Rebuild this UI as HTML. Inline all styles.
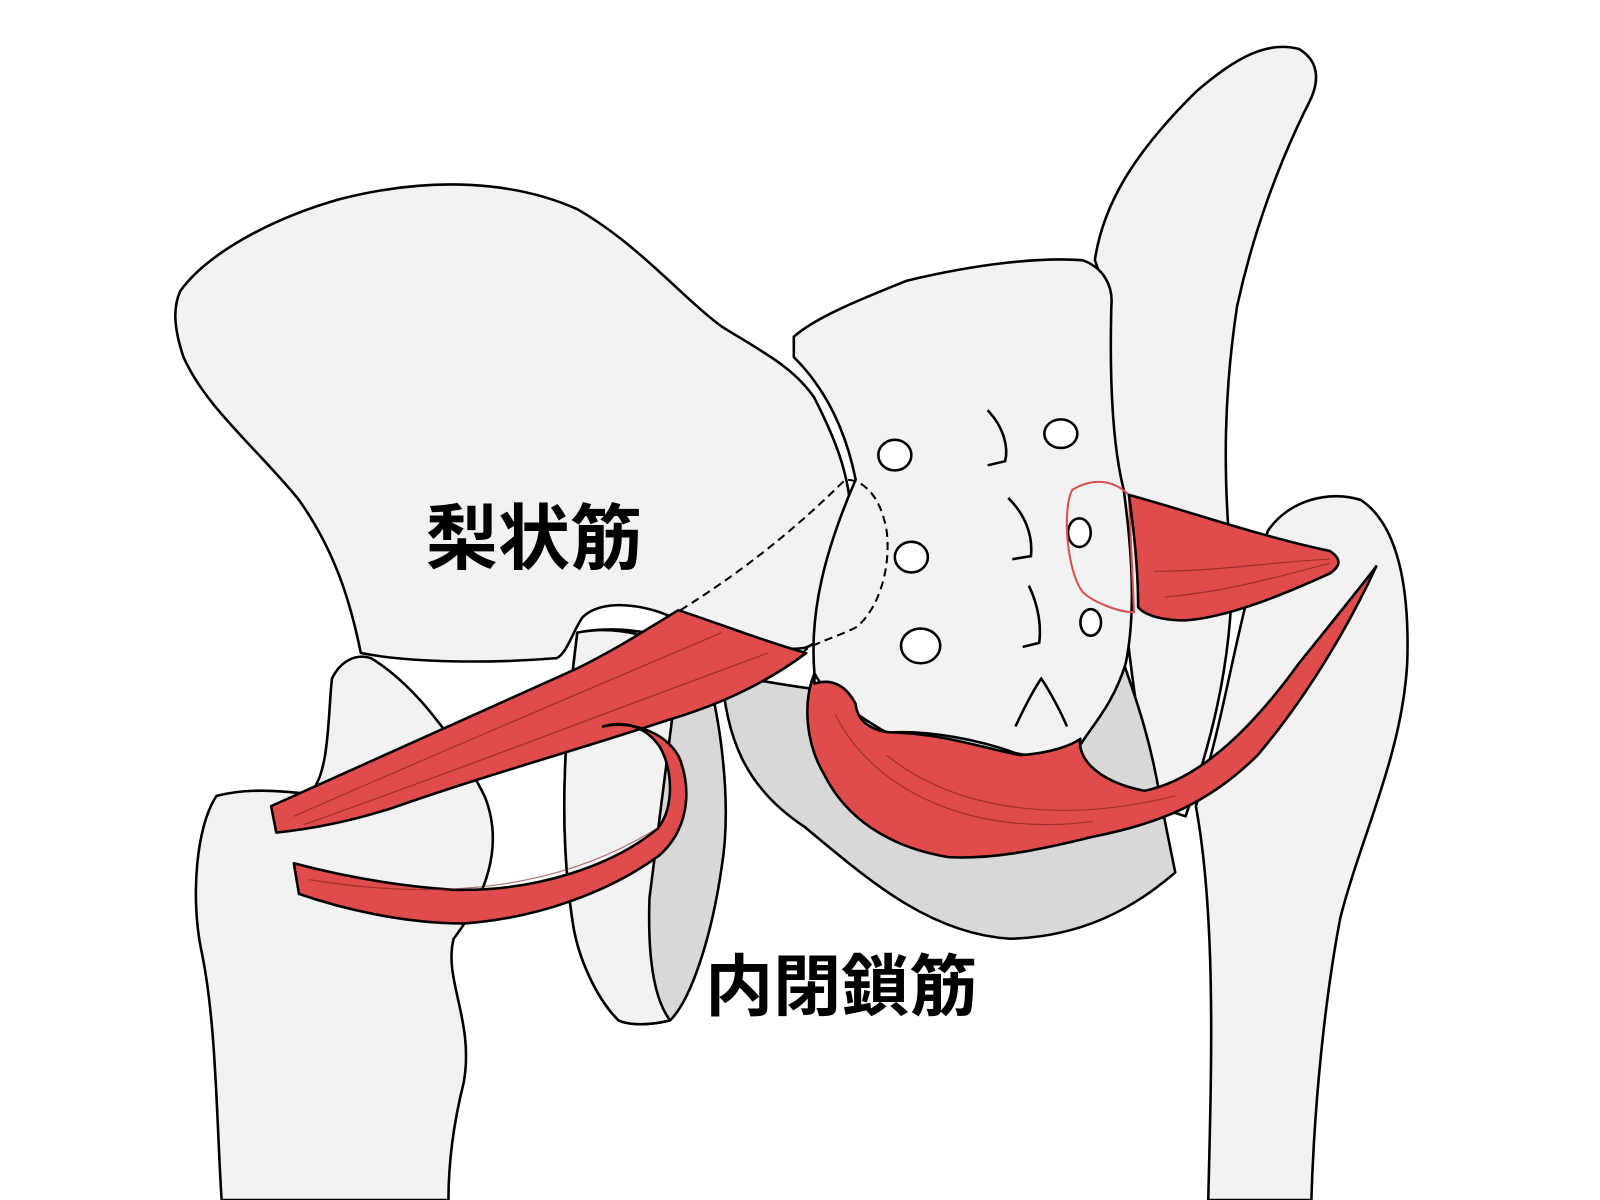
<!DOCTYPE html>
<html><head><meta charset="utf-8"><style>
html,body{margin:0;padding:0;background:#fff;width:1600px;height:1200px;overflow:hidden}
svg{display:block}
text{font-family:"Liberation Sans","Noto Sans CJK JP",sans-serif;font-weight:bold;fill:#000}
</style></head><body>
<svg width="1600" height="1200" viewBox="0 0 1552 1176" preserveAspectRatio="none" xmlns="http://www.w3.org/2000/svg">
<g stroke="#000" stroke-width="2.5" stroke-linejoin="round" fill="#f2f2f2">
<path d="M1160,790 C1190,700 1200,600 1230,520 C1250,490 1290,480 1320,490 C1350,510 1368,560 1365,650 C1360,740 1320,820 1300,900 C1285,980 1275,1080 1272,1176 L1172,1176 C1175,1050 1180,900 1160,790 Z"/>
<path d="M1062,255 C1070,200 1100,150 1160,90 C1200,55 1230,40 1260,48 C1280,60 1280,80 1270,100 C1240,160 1215,230 1200,300 C1188,380 1185,460 1195,560 C1195,660 1170,740 1150,800 L1120,790 C1100,700 1090,600 1080,480 C1078,400 1080,300 1062,255 Z"/>
<path d="M210,780 C240,772 270,775 300,778 C320,760 318,700 322,665 C330,648 345,640 360,645 C400,670 440,720 470,780 C490,830 470,880 440,920 C430,960 460,1000 450,1060 C440,1100 435,1140 435,1176 L215,1176 C210,1100 210,1000 195,930 C185,880 190,810 210,780 Z"/>
<path fill="#d8d8d8" d="M700,660 C705,720 720,770 780,810 C840,860 900,915 980,920 C1050,918 1100,890 1140,855 L1125,780 C1115,720 1100,680 1090,650 C1000,700 850,690 700,660 Z"/>
<path fill="#d8d8d8" d="M560,620 C600,612 650,620 680,640 C700,700 710,790 700,850 C690,920 670,980 650,1000 C630,1005 610,1005 600,1000 C580,980 560,940 555,900 C540,800 550,700 560,620 Z"/>
<path d="M560,620 C600,612 640,625 660,640 C650,720 640,800 630,880 C628,940 635,980 650,1000 C630,1005 610,1005 600,1000 C580,980 560,940 555,900 C540,800 550,700 560,620 Z"/>
<path d="M175,285 C200,250 260,215 330,195 C420,172 500,178 560,205 C620,240 660,290 700,320 C740,345 770,360 790,390 C815,440 830,480 825,540 C815,600 800,630 780,635 C740,640 690,620 640,600 C610,590 580,590 565,605 C555,620 550,640 540,645 C480,650 400,650 350,640 C340,590 325,540 290,490 C250,440 200,400 178,350 C168,320 168,300 175,285 Z"/>
<path d="M770,330 C790,312 830,295 880,275 C950,258 1010,252 1050,255 C1070,262 1080,280 1078,300 C1076,380 1080,440 1090,480 C1098,540 1102,600 1092,650 C1080,690 1060,710 1048,730 C1030,740 1000,742 985,738 C950,725 900,715 860,718 C830,700 800,680 790,660 C785,600 800,540 830,470 C820,420 800,380 770,350 Z"/>
</g>
<g fill="#fff" stroke="#000" stroke-width="2.5">
<ellipse cx="868" cy="446" rx="16" ry="15"/>
<ellipse cx="1029" cy="425" rx="16" ry="14"/>
<ellipse cx="884" cy="546" rx="16" ry="15"/>
<ellipse cx="1047" cy="522" rx="11" ry="14"/>
<ellipse cx="893" cy="633" rx="19" ry="17"/>
<ellipse cx="1058" cy="610" rx="10" ry="13"/>
</g>
<g fill="none" stroke="#000" stroke-width="2.5">
<path d="M958,402 C975,420 978,440 975,452 L958,456"/>
<path d="M978,488 C995,505 1002,525 1000,545 L982,548"/>
<path d="M998,574 C1008,595 1010,615 1008,630 L992,634"/>
<path d="M985,712 C995,690 1005,672 1010,665 C1020,680 1030,700 1035,712"/>
</g>
<g fill="none" stroke="#000" stroke-width="2" stroke-dasharray="8 5">
<path d="M660,598 C720,560 770,520 820,470 C840,470 855,490 860,520 C865,560 850,600 830,615 C810,625 790,630 780,638"/>
</g>
<path d="M1040,480 C1060,468 1080,470 1095,485 L1100,600 C1085,600 1060,590 1050,580 C1035,560 1030,500 1040,480 Z" fill="none" stroke="#d85050" stroke-width="2"/>
<g fill="#e04c4c" stroke="#000" stroke-width="2.5" stroke-linejoin="round">
<path d="M1095,485 C1150,500 1220,525 1290,540 C1302,548 1300,555 1290,562 C1240,585 1190,605 1150,608 C1120,608 1108,600 1104,595 C1104,560 1100,520 1095,485 Z"/>
<path d="M790,670 C805,665 820,670 830,690 C832,710 850,718 870,718 C920,720 960,735 990,740 C1020,738 1040,730 1048,724 C1045,740 1060,765 1110,775 C1160,765 1210,720 1260,650 C1300,600 1320,575 1335,555 C1310,610 1270,680 1220,740 C1170,790 1120,808 1060,820 C1000,835 960,842 920,840 C860,830 820,800 800,760 C782,730 778,690 790,660 Z"/>
<path d="M263,790 C350,750 450,705 560,655 C600,635 630,615 658,598 C700,612 740,628 782,640 C745,668 700,690 650,705 C560,735 470,760 380,792 C340,805 305,812 268,816 Z"/>
<path d="M285,846 C330,858 380,868 440,872 C520,874 595,848 638,812 C655,790 652,752 640,732 C628,714 608,705 585,712 C615,705 650,720 660,745 C672,780 665,815 640,838 C590,875 520,900 450,905 C390,905 330,890 290,876 Z"/>
</g>
<g fill="none" stroke="#7a1f1f" stroke-width="1.2" opacity="0.6">
<path d="M285,800 C420,740 560,680 700,620"/>
<path d="M295,808 C430,760 570,705 745,640"/>
<path d="M300,862 C420,882 540,875 640,810"/>
<path d="M1120,560 C1180,560 1240,550 1290,548"/>
<path d="M1130,585 C1190,580 1240,565 1290,552"/>
<path d="M810,700 C850,780 950,820 1060,805"/>
<path d="M860,740 C920,790 1020,810 1140,780"/>
</g>
<text x="413" y="552" font-size="70">梨状筋</text>
<text x="684" y="990" font-size="66">内閉鎖筋</text>
</svg>
</body></html>
